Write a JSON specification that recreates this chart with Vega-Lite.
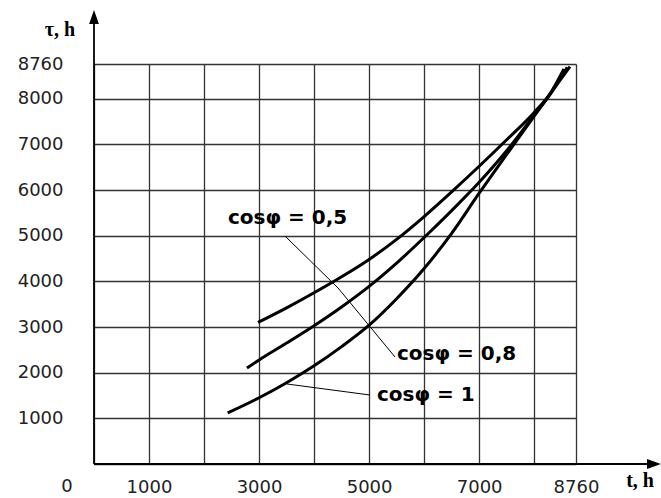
{
  "$schema": "https://vega.github.io/schema/vega-lite/v6.json",
  "width": 482,
  "height": 400,
  "autosize": {"type": "none"},
  "padding": {"left": 94, "top": 64, "right": 85, "bottom": 34},
  "background": "white",
  "config": {"view": {"stroke": null}, "font": "DejaVu Sans"},
  "datasets": {
    "curves": [
      {"s": "0.5", "x": 2980, "y": 3100}, {"s": "0.5", "x": 3500, "y": 3420}, {"s": "0.5", "x": 4000, "y": 3750},
      {"s": "0.5", "x": 4500, "y": 4100}, {"s": "0.5", "x": 5000, "y": 4480}, {"s": "0.5", "x": 5500, "y": 4920},
      {"s": "0.5", "x": 6000, "y": 5420}, {"s": "0.5", "x": 6500, "y": 5960}, {"s": "0.5", "x": 7000, "y": 6520},
      {"s": "0.5", "x": 7500, "y": 7100}, {"s": "0.5", "x": 8000, "y": 7700}, {"s": "0.5", "x": 8300, "y": 8130},
      {"s": "0.5", "x": 8540, "y": 8650},
      {"s": "0.8", "x": 2780, "y": 2100}, {"s": "0.8", "x": 3000, "y": 2280}, {"s": "0.8", "x": 3500, "y": 2650},
      {"s": "0.8", "x": 4000, "y": 3030}, {"s": "0.8", "x": 4500, "y": 3440}, {"s": "0.8", "x": 5000, "y": 3890},
      {"s": "0.8", "x": 5500, "y": 4400}, {"s": "0.8", "x": 6000, "y": 4960}, {"s": "0.8", "x": 6500, "y": 5550},
      {"s": "0.8", "x": 7000, "y": 6170}, {"s": "0.8", "x": 7500, "y": 6860}, {"s": "0.8", "x": 8000, "y": 7640},
      {"s": "0.8", "x": 8300, "y": 8110}, {"s": "0.8", "x": 8600, "y": 8690},
      {"s": "1", "x": 2430, "y": 1120}, {"s": "1", "x": 3000, "y": 1450}, {"s": "1", "x": 3500, "y": 1780},
      {"s": "1", "x": 4000, "y": 2150}, {"s": "1", "x": 4500, "y": 2570}, {"s": "1", "x": 5000, "y": 3040},
      {"s": "1", "x": 5500, "y": 3620}, {"s": "1", "x": 6000, "y": 4280}, {"s": "1", "x": 6500, "y": 5050},
      {"s": "1", "x": 7000, "y": 5930}, {"s": "1", "x": 7500, "y": 6780}, {"s": "1", "x": 8000, "y": 7620},
      {"s": "1", "x": 8300, "y": 8120}, {"s": "1", "x": 8650, "y": 8700}
    ],
    "leaders": [
      {"x": 3471, "y": 4993, "x2": 4435, "y2": 3855},
      {"x": 4435, "y": 3855, "x2": 5471, "y2": 2343},
      {"x": 3508, "y": 1752, "x2": 5016, "y2": 1511}
    ],
    "labels": [
      {"x": 2435, "y": 5388, "t": "cosφ = 0,5"},
      {"x": 5507, "y": 2409, "t": "cosφ = 0,8"},
      {"x": 5143, "y": 1511, "t": "cosφ = 1"}
    ],
    "axes": [
      {"x": 0, "y": 0, "x2": 0, "y2": 9750},
      {"x": 0, "y": 0, "x2": 10150, "y2": 0}
    ],
    "headY": [{"x": 0, "y": 9790}],
    "headX": [{"x": 10178, "y": 0}],
    "titles": [
      {"x": -618, "y": 9505, "t": "τ, h"},
      {"x": 9924, "y": -372, "t": "t, h"}
    ],
    "origin": [{"x": -491, "y": -504, "t": "0"}]
  },
  "layer": [
    {
      "data": {"name": "curves"},
      "mark": {"type": "line", "color": "black", "strokeWidth": 3, "interpolate": "monotone"},
      "encoding": {
        "x": {
          "field": "x", "type": "quantitative", "title": null,
          "scale": {"domain": [0, 8760], "nice": false, "zero": false},
          "axis": {
            "values": [0, 1000, 2000, 3000, 4000, 5000, 6000, 7000, 8000, 8760],
            "format": "d",
            "labelExpr": "indexof([1000, 3000, 5000, 7000, 8760], datum.value) >= 0 ? datum.label : ''",
            "grid": true, "gridColor": "#333333", "gridWidth": 1.3, "gridOpacity": 1,
            "domain": false, "ticks": false, "labelPadding": 14,
            "labelFont": "DejaVu Sans", "labelFontSize": 18, "labelColor": "#222222",
            "labelBaseline": "top", "labelFlush": false, "labelOverlap": false
          }
        },
        "y": {
          "field": "y", "type": "quantitative", "title": null,
          "scale": {"domain": [0, 8760], "nice": false, "zero": false},
          "axis": {
            "values": [0, 1000, 2000, 3000, 4000, 5000, 6000, 7000, 8000, 8760],
            "format": "d",
            "labelExpr": "datum.value == 0 ? '' : datum.label",
            "grid": true, "gridColor": "#333333", "gridWidth": 1.3, "gridOpacity": 1,
            "domain": false, "ticks": false, "labelPadding": 31,
            "labelFont": "DejaVu Sans", "labelFontSize": 18, "labelColor": "#222222",
            "labelFlush": false, "labelOverlap": false
          }
        },
        "detail": {"field": "s", "type": "nominal"}
      }
    },
    {
      "data": {"name": "leaders"},
      "mark": {"type": "rule", "color": "black", "strokeWidth": 1},
      "encoding": {
        "x": {"field": "x", "type": "quantitative", "title": null},
        "y": {"field": "y", "type": "quantitative", "title": null},
        "x2": {"field": "x2"},
        "y2": {"field": "y2"}
      }
    },
    {
      "data": {"name": "labels"},
      "mark": {"type": "text", "align": "left", "baseline": "middle", "font": "DejaVu Sans", "fontWeight": "bold", "fontSize": 20, "color": "black"},
      "encoding": {
        "x": {"field": "x", "type": "quantitative", "title": null},
        "y": {"field": "y", "type": "quantitative", "title": null},
        "text": {"field": "t"}
      }
    },
    {
      "data": {"name": "axes"},
      "mark": {"type": "rule", "color": "black", "strokeWidth": 1.8},
      "encoding": {
        "x": {"field": "x", "type": "quantitative", "title": null},
        "y": {"field": "y", "type": "quantitative", "title": null},
        "x2": {"field": "x2"},
        "y2": {"field": "y2"}
      }
    },
    {
      "data": {"name": "headY"},
      "mark": {"type": "point", "filled": true, "color": "black", "opacity": 1, "size": 196, "shape": "M0,-1L0.7,1L-0.7,1Z"},
      "encoding": {
        "x": {"field": "x", "type": "quantitative", "title": null},
        "y": {"field": "y", "type": "quantitative", "title": null}
      }
    },
    {
      "data": {"name": "headX"},
      "mark": {"type": "point", "filled": true, "color": "black", "opacity": 1, "size": 196, "shape": "M1,0L-1,0.7L-1,-0.7Z"},
      "encoding": {
        "x": {"field": "x", "type": "quantitative", "title": null},
        "y": {"field": "y", "type": "quantitative", "title": null}
      }
    },
    {
      "data": {"name": "titles"},
      "mark": {"type": "text", "align": "center", "baseline": "middle", "font": "Liberation Serif", "fontWeight": "bold", "fontSize": 20, "color": "black"},
      "encoding": {
        "x": {"field": "x", "type": "quantitative", "title": null},
        "y": {"field": "y", "type": "quantitative", "title": null},
        "text": {"field": "t"}
      }
    },
    {
      "data": {"name": "origin"},
      "mark": {"type": "text", "align": "center", "baseline": "middle", "font": "DejaVu Sans", "fontSize": 18, "color": "#222222"},
      "encoding": {
        "x": {"field": "x", "type": "quantitative", "title": null},
        "y": {"field": "y", "type": "quantitative", "title": null},
        "text": {"field": "t"}
      }
    }
  ]
}
